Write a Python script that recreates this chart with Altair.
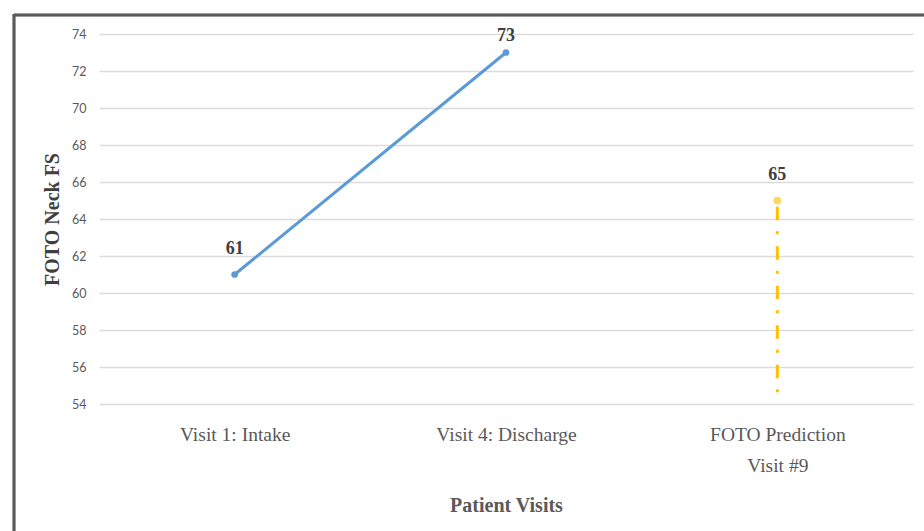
import altair as alt
import pandas as pd

visits = ["Visit 1: Intake", "Visit 4: Discharge", "FOTO Prediction|Visit #9"]
scores = [61, 73, 65]
kinds = ["actual", "actual", "prediction"]
pred_low = [None, None, 54]
y_ticks = [54, 56, 58, 60, 62, 64, 66, 68, 70, 72, 74]

df = pd.DataFrame({"visit": visits, "score": scores, "kind": kinds, "low": pred_low})
actual = df[df.kind == "actual"]
pred = df[df.kind == "prediction"]

X = alt.X(
    "visit:N",
    sort=visits,
    scale=alt.Scale(type="point", domain=visits, padding=0.5),
    axis=alt.Axis(
        title="Patient Visits",
        labelExpr="split(datum.label, '|')",
        labelAngle=0,
        labelFont="Liberation Serif",
        labelFontSize=19.5,
        labelColor="#595959",
        labelPadding=21,
        labelLineHeight=31,
        labelBaseline="top",
        ticks=False,
        domain=False,
        grid=False,
        titleFont="Liberation Serif",
        titleFontSize=20,
        titleFontWeight="bold",
        titleColor="#595959",
        titleX=407,
        titleY=101,
        titleBaseline="middle",
        titleAlign="center",
    ),
)

Y = alt.Y(
    "score:Q",
    scale=alt.Scale(domain=[54, 74], nice=False, zero=False),
    axis=alt.Axis(
        title="FOTO Neck FS",
        values=y_ticks,
        labelOverlap=False,
        labelFont="Lato",
        labelFontSize=12.5,
        labelColor="#595959",
        labelPadding=13,
        ticks=False,
        domain=False,
        grid=True,
        gridColor="#dcdcdc",
        gridWidth=1.3,
        titleFont="Liberation Serif",
        titleFontSize=20,
        titleFontWeight="bold",
        titleColor="#404040",
        titleX=-47,
        titleY=185,
        titleAngle=-90,
        titleBaseline="middle",
        titleAlign="center",
    ),
)

line = alt.Chart(actual).mark_line(color="#5b9bd5", strokeWidth=3).encode(x=X, y=Y)
pts = alt.Chart(actual).mark_circle(color="#5b9bd5", size=45, opacity=1).encode(x=X, y=Y)

rule = alt.Chart(pred).mark_rule(
    color="#ffc000", strokeWidth=3, strokeDash=[13.5, 11, 3, 12], strokeDashOffset=33.3
).encode(x=X, y=Y, y2="low:Q")
ppt = alt.Chart(pred).mark_circle(color="#ffd55a", size=60, opacity=1).encode(x=X, y=Y)

txt_style = dict(font="Liberation Serif", fontWeight="bold", fontSize=18, color="#404040")
labels_low = alt.Chart(df).transform_filter("datum.score < 73").mark_text(dy=-26, **txt_style).encode(
    x=X, y=Y, text="score:Q"
)
labels_top = alt.Chart(df).transform_filter("datum.score >= 73").mark_text(dy=-17, **txt_style).encode(
    x=X, y=Y, text="score:Q"
)

border_top = alt.Chart(df).mark_rule(color="#5a5a5a", strokeWidth=2.5).encode(
    x=alt.value(-85), x2=alt.value(830), y=alt.value(-19)
)
border_left = alt.Chart(df).mark_rule(color="#5a5a5a", strokeWidth=2.5).encode(
    x=alt.value(-85), y=alt.value(-20), y2=alt.value(500)
)

chart = alt.layer(line, pts, rule, ppt, labels_low, labels_top, border_top, border_left).properties(
    width=814,
    height=370,
    padding={"left": 99, "top": 34, "right": 11, "bottom": 127},
    autosize=alt.AutoSizeParams(type="none"),
    background="white",
).configure_view(stroke=None)

chart.save("out.html", embed_options={"renderer": "svg", "actions": False})
